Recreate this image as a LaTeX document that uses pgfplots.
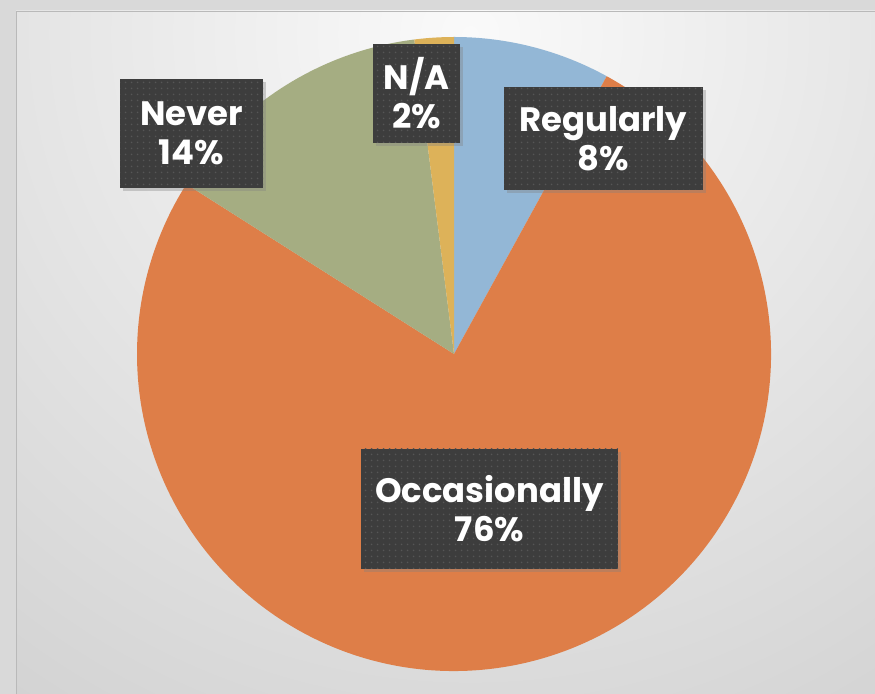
\documentclass[border=0pt]{standalone}
\usepackage{fontspec}
\setmainfont{Poppins}
\usepackage{pgfplots}
\pgfplotsset{compat=1.18}
\usetikzlibrary{shadows,patterns.meta}
\definecolor{pblue}{HTML}{93B7D6}
\definecolor{porange}{HTML}{DE7E48}
\definecolor{pgreen}{HTML}{A5AD82}
\definecolor{pgold}{HTML}{DDB259}
\definecolor{boxc}{HTML}{3D3D3D}
\definecolor{dotc}{HTML}{565656}
\definecolor{outerbg}{HTML}{D9D9D9}
\begin{document}
\begin{tikzpicture}
\begin{axis}[
  scale only axis, width=875bp, height=694bp,
  xmin=0, xmax=875, ymin=0, ymax=694,
  hide axis, clip=false,
]
% background
\fill[outerbg] (axis cs:0,0) rectangle (axis cs:875,694);
\begin{scope}
\clip (axis cs:16,0) rectangle (axis cs:875,683);
\shade[inner color=white!96!gray, outer color=gray!42] (axis cs:470,660) circle[radius=1000bp];
\end{scope}
\draw[gray!55, line width=0.8bp] (axis cs:16,0) -- (axis cs:16,683) -- (axis cs:875,683);
% pie wedges (values in percent, clockwise from top)
\pgfplotsextra{%
\foreach \val/\colname [remember=\angB as \angA (initially 90)] in {8/pblue,76/porange,14/pgreen,2/pgold} {
  \pgfmathsetmacro\angB{\angA-3.6*\val}
  \fill[\colname] (axis cs:454,340) -- ++(\angA:317bp) arc[start angle=\angA, end angle=\angB, radius=317bp] -- cycle;
}}
% labels
\tikzset{lab/.style={fill=boxc, text=white, font=\fontsize{34}{39}\selectfont\bfseries, align=center, inner sep=0pt,
  drop shadow={opacity=0.35, shadow xshift=3bp, shadow yshift=-3bp},
  postaction={pattern={Dots[radius=1bp, distance=6bp]}, pattern color=dotc}}}
\node[lab, minimum width=199bp, minimum height=103bp] at (axis cs:603.5,555.5) {Regularly\\8\%};
\node[lab, minimum width=257bp, minimum height=120bp] at (axis cs:489.5,185) {Occasionally\\76\%};
\node[lab, minimum width=143bp, minimum height=109bp] at (axis cs:191.5,560.5) {Never\\14\%};
\node[lab, minimum width=87bp, minimum height=99bp] at (axis cs:416.5,600.5) {N/A\\2\%};
\end{axis}
\pgfresetboundingbox
\path[use as bounding box] (current axis.south west) rectangle (current axis.north east);
\end{tikzpicture}
\end{document}
